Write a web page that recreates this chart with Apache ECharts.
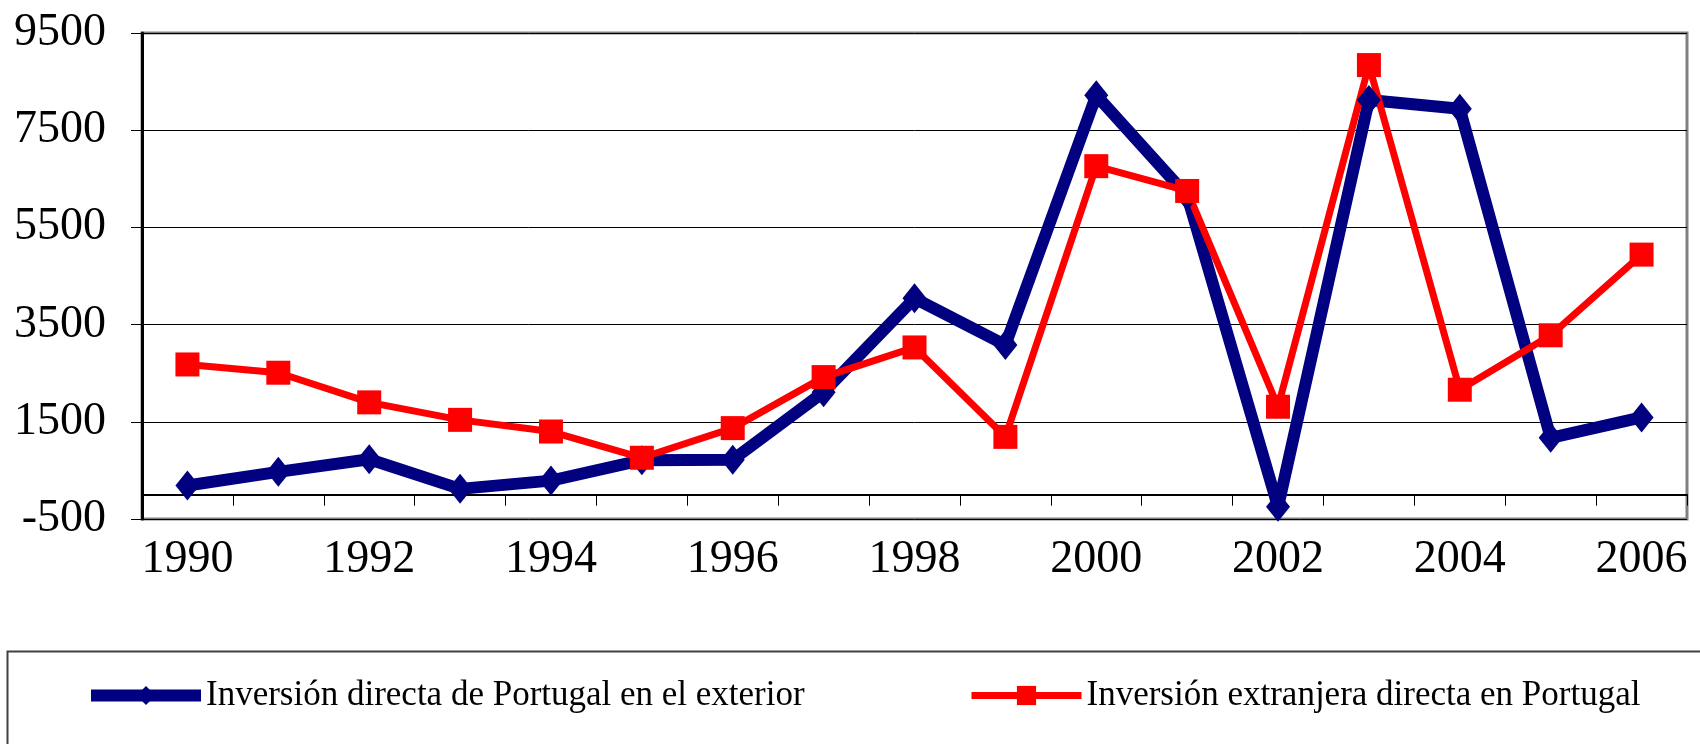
<!DOCTYPE html>
<html>
<head>
<meta charset="utf-8">
<script src="https://cdn.jsdelivr.net/npm/echarts@6/dist/echarts.min.js"></script>
<style>
  html, body { margin: 0; padding: 0; background: #fff; }
  #chart { width: 1700px; height: 744px; }
</style>
</head>
<body>
<div id="chart"></div>
<script>
// años
var years = ['1990', '1991', '1992', '1993', '1994', '1995', '1996', '1997', '1998',
  '1999', '2000', '2001', '2002', '2003', '2004', '2005', '2006'];
// Inversión directa de Portugal en el exterior
var salida = [190, 470, 730, 120, 290, 710, 720, 2110, 4040, 3080, 8220, 6150, -250, 8120, 7940, 1170, 1590];
// Inversión extranjera directa en Portugal
var entrada = [2680, 2510, 1900, 1540, 1300, 760, 1370, 2420, 3030, 1190, 6760, 6250, 1810, 8840, 2160, 3280, 4940];
var nombres = ['Inversión directa de Portugal en el exterior', 'Inversión extranjera directa en Portugal'];

var serif = '"Liberation Serif"';

var chart = echarts.init(document.getElementById('chart'));

var option = {
  animation: false,
  backgroundColor: '#fff',
  grid: {
    left: 142, right: 13, top: 33, bottom: 225,
    outerBoundsMode: 'none',
    show: true, borderColor: '#808080', borderWidth: 3
  },
  graphic: [{
    type: 'rect',
    left: 5, top: 649,
    shape: { width: 1720, height: 200 },
    style: { fill: 'none', stroke: '#404040', lineWidth: 2 }
  }],
  legend: [{
    data: [nombres[0]],
    left: 85, top: 678, padding: 0,
    itemWidth: 110, itemHeight: 24,
    lineStyle: { width: 12 },
    textStyle: { fontFamily: serif, fontSize: 35, color: '#000' }
  }, {
    data: [nombres[1]],
    left: 968, top: 678, padding: 0,
    itemWidth: 110, itemHeight: 24,
    lineStyle: { width: 7 },
    textStyle: { fontFamily: serif, fontSize: 35, color: '#000' }
  }],
  xAxis: {
    type: 'category',
    data: years,
    boundaryGap: true,
    axisLine: { onZero: true, lineStyle: { color: '#000', width: 2 } },
    axisTick: { show: true, interval: 0, length: 11, lineStyle: { color: '#000', width: 1 } },
    axisLabel: { interval: 1, margin: 18, fontFamily: serif, fontSize: 46, color: '#000' },
    splitLine: { show: false }
  },
  yAxis: {
    type: 'value',
    min: -500, max: 9500, interval: 2000,
    axisLine: { show: true, lineStyle: { color: '#000', width: 3 } },
    axisTick: { show: true, length: 11, lineStyle: { color: '#000', width: 1 } },
    axisLabel: {
      margin: 36, fontFamily: serif, fontSize: 46, color: '#000',
      formatter: function (v) { return String(v); }
    },
    splitLine: { show: true, lineStyle: { color: '#000', width: 1 } }
  },
  series: [{
    name: nombres[0],
    type: 'line',
    data: salida,
    symbol: 'diamond',
    symbolSize: [24, 30],
    lineStyle: { color: '#000080', width: 12 },
    itemStyle: { color: '#000080' }
  }, {
    name: nombres[1],
    type: 'line',
    data: entrada,
    symbol: 'rect',
    symbolSize: 24,
    lineStyle: { color: '#ff0000', width: 7 },
    itemStyle: { color: '#ff0000' }
  }]
};

chart.setOption(option);
</script>
</body>
</html>
